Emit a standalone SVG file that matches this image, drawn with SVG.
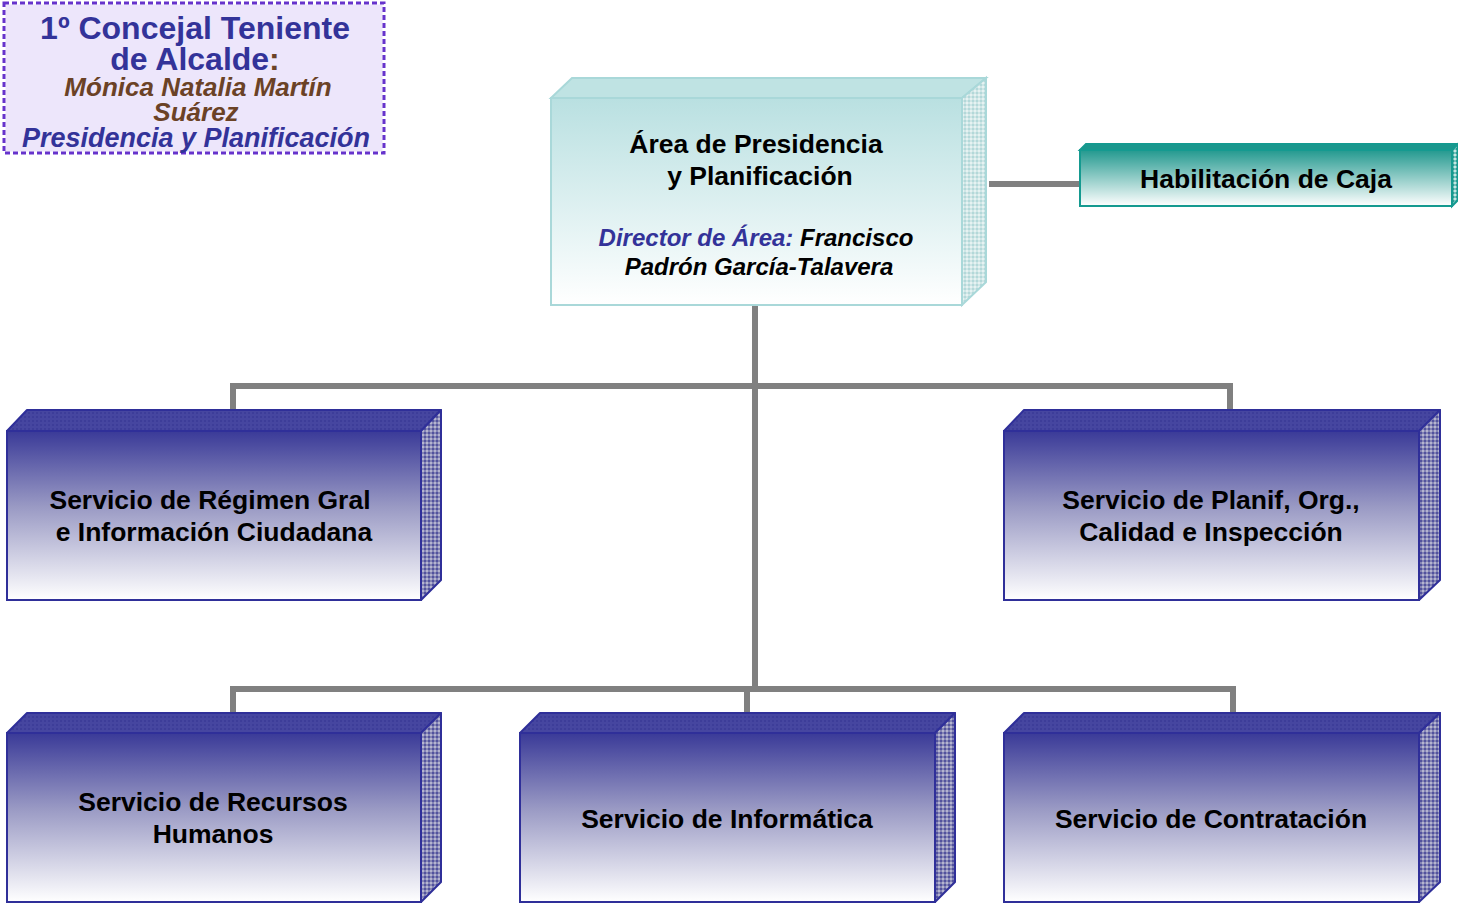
<svg xmlns="http://www.w3.org/2000/svg" width="1458" height="904" viewBox="0 0 1458 904">
<defs>
<linearGradient id="gBlue" x1="0" y1="0" x2="0" y2="1">
<stop offset="0" stop-color="#3a3a98"/>
<stop offset="0.45" stop-color="#9a9ac4"/>
<stop offset="1" stop-color="#ffffff"/>
</linearGradient>
<linearGradient id="gTeal" x1="0" y1="0" x2="0" y2="1">
<stop offset="0" stop-color="#b9e0e1"/>
<stop offset="1" stop-color="#ffffff"/>
</linearGradient>
<linearGradient id="gCaja" x1="0" y1="0" x2="0" y2="1">
<stop offset="0" stop-color="#23998f"/>
<stop offset="1" stop-color="#ffffff"/>
</linearGradient>
<pattern id="pBlue" width="4" height="4" patternUnits="userSpaceOnUse">
<rect width="4" height="4" fill="#8484b4"/>
<rect width="2" height="2" fill="#52529e"/>
<rect x="2" y="2" width="2" height="2" fill="#b4b4d0"/>
</pattern>
<pattern id="pBlueTop" width="4" height="4" patternUnits="userSpaceOnUse">
<rect width="4" height="4" fill="#4646a0"/>
<rect width="2" height="2" fill="#3d3d99"/>
</pattern>
<pattern id="pTeal" width="4" height="4" patternUnits="userSpaceOnUse">
<rect width="4" height="4" fill="#cfe6e6"/>
<rect width="2" height="2" fill="#b3d8d9"/>
<rect x="2" y="2" width="2" height="2" fill="#e6f2f2"/>
</pattern>
<pattern id="pCaja" width="4" height="4" patternUnits="userSpaceOnUse">
<rect width="4" height="4" fill="#6fc0b9"/>
<rect width="2" height="2" fill="#2a9c92"/>
<rect x="2" y="2" width="2" height="2" fill="#c6e6e3"/>
</pattern>
</defs>
<style>
.t{font-family:"Liberation Sans",Arial,sans-serif;font-weight:bold;text-anchor:middle}
.svc{font-size:26.5px;fill:#000}
.bf{fill:url(#gBlue);stroke:#2f2f99;stroke-width:2}
.bt{fill:url(#pBlueTop);stroke:#2f2f99;stroke-width:2;stroke-linejoin:round}
.bs{fill:url(#pBlue);stroke:#2f2f99;stroke-width:2;stroke-linejoin:round}
.con{stroke:#808080;stroke-width:6;fill:none}
</style>
<rect width="1458" height="904" fill="#ffffff"/>

<g id="concejal">
<rect x="4" y="3" width="380" height="150" fill="#ede6fb" stroke="#ffffff" stroke-width="3"/>
<rect x="4" y="3" width="380" height="150" fill="none" stroke="#6633cc" stroke-width="3" stroke-dasharray="5 3"/>
<text class="t" x="195" y="39" font-size="32" fill="#333399">1º Concejal Teniente</text>
<text class="t" x="195" y="70" font-size="32" fill="#333399">de Alcalde<tspan fill="#6b4226">:</tspan></text>
<text class="t" x="198" y="96" font-size="26" font-style="italic" fill="#6b4226">Mónica Natalia Martín</text>
<text class="t" x="196" y="121" font-size="26" font-style="italic" fill="#6b4226">Suárez</text>
<text class="t" x="196" y="147" font-size="27" font-style="italic" fill="#333399">Presidencia y Planificación</text>
</g>

<g id="connectors">
<line class="con" x1="989" y1="184" x2="1081" y2="184" stroke-width="5"/>
<line class="con" x1="755" y1="305" x2="755" y2="689" stroke-width="7"/>
<polyline class="con" points="233,410 233,386 1230,386 1230,410"/>
<polyline class="con" points="233,713 233,689 1233,689 1233,713"/>
<line class="con" x1="747" y1="689" x2="747" y2="713"/>
</g>

<g id="area">
<polygon points="551,98 572,78 986,78 962,98" fill="#bfe3e3" stroke="#a9d8d9" stroke-width="2"/>
<polygon points="962,98 986,78 986,282 962,305" fill="url(#pTeal)" stroke="#a9d8d9" stroke-width="2"/>
<rect x="551" y="98" width="411" height="207" fill="url(#gTeal)" stroke="#a9d8d9" stroke-width="2"/>
<text class="t" x="756" y="153" font-size="26.5" fill="#000">Área de Presidencia</text>
<text class="t" x="760" y="185" font-size="26.5" fill="#000">y Planificación</text>
<text class="t" x="756" y="246" font-size="24" font-style="italic" fill="#000"><tspan fill="#333399">Director de Área:</tspan> Francisco</text>
<text class="t" x="759" y="275" font-size="24" font-style="italic" fill="#000">Padrón García-Talavera</text>
</g>

<g id="caja">
<polygon points="1080,150 1086,144 1458,144 1452,150" fill="#1b978d" stroke="#159a90" stroke-width="2"/>
<polygon points="1452,150 1458,144 1458,200 1452,206" fill="url(#pCaja)" stroke="#159a90" stroke-width="2"/>
<rect x="1080" y="150" width="372" height="56" fill="url(#gCaja)" stroke="#159a90" stroke-width="2"/>
<text class="t" x="1266" y="188" font-size="26.5" fill="#000">Habilitación de Caja</text>
</g>

<g id="regimen">
<polygon class="bt" points="7,431 27,410 441,410 421,431"/>
<polygon class="bs" points="421,431 441,410 441,580 421,600"/>
<rect class="bf" x="7" y="431" width="414" height="169"/>
<text class="t svc" x="210" y="509">Servicio de Régimen Gral</text>
<text class="t svc" x="214" y="541">e Información Ciudadana</text>
</g>

<g id="planif">
<polygon class="bt" points="1004,431 1024,410 1440,410 1419,431"/>
<polygon class="bs" points="1419,431 1440,410 1440,580 1419,600"/>
<rect class="bf" x="1004" y="431" width="415" height="169"/>
<text class="t svc" x="1211" y="509">Servicio de Planif, Org.,</text>
<text class="t svc" x="1211" y="541">Calidad e Inspección</text>
</g>

<g id="rrhh">
<polygon class="bt" points="7,733 27,713 441,713 421,733"/>
<polygon class="bs" points="421,733 441,713 441,882 421,902"/>
<rect class="bf" x="7" y="733" width="414" height="169"/>
<text class="t svc" x="213" y="811">Servicio de Recursos</text>
<text class="t svc" x="213" y="843">Humanos</text>
</g>

<g id="informatica">
<polygon class="bt" points="520,733 540,713 955,713 935,733"/>
<polygon class="bs" points="935,733 955,713 955,882 935,902"/>
<rect class="bf" x="520" y="733" width="415" height="169"/>
<text class="t svc" x="727" y="828">Servicio de Informática</text>
</g>

<g id="contratacion">
<polygon class="bt" points="1004,733 1024,713 1440,713 1419,733"/>
<polygon class="bs" points="1419,733 1440,713 1440,882 1419,902"/>
<rect class="bf" x="1004" y="733" width="415" height="169"/>
<text class="t svc" x="1211" y="828">Servicio de Contratación</text>
</g>
</svg>
